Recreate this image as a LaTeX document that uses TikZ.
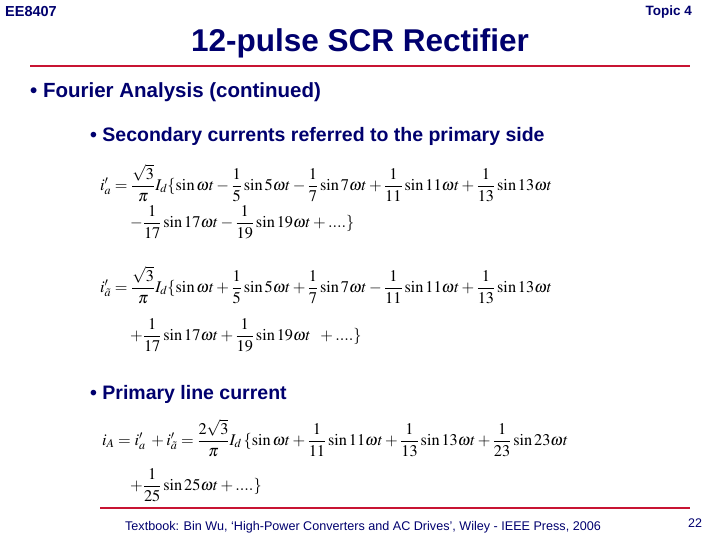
\documentclass[tikz,border=0pt]{standalone}
\usepackage{amsmath}
\usepackage{mathptmx}
\usepackage{fontspec}
\setmainfont{Liberation Sans}
\definecolor{navy}{RGB}{0,0,110}
\definecolor{rline}{RGB}{200,20,50}
\tikzset{txt/.style={anchor=west,inner sep=0pt,text=navy,font=\bfseries},
 eq/.style={anchor=west,inner sep=0pt,font=\fontsize{16.3}{19}\selectfont}}
\begin{document}
\begin{tikzpicture}[x=1pt,y=-1pt]
\useasboundingbox (0,0) rectangle (720,540);
\node[txt,font=\bfseries\fontsize{14.5}{17}\selectfont] (ee) at (5,12) {EE8407};
\node[txt,anchor=east,font=\bfseries\fontsize{13.5}{16}\selectfont] (tp) at (692,12) {Topic 4};
\node[txt,anchor=center,font=\bfseries\fontsize{31.5}{36}\selectfont] (title) at (360,43) {12-pulse SCR Rectifier};
\draw[rline,line width=1.5pt] (30,66) -- (690,66);
\node[txt,font=\bfseries\fontsize{20.5}{24}\selectfont] (b1) at (30,92) {• Fourier Analysis (continued)};
\node[txt,font=\bfseries\fontsize{19.5}{23}\selectfont] (b2) at (90,136) {• Secondary currents referred to the primary side};
\node[eq] (e1) at (100,183) {$i'_a=\dfrac{\sqrt3}{\pi}I_d\{\sin\omega t-\dfrac15\sin5\omega t-\dfrac17\sin7\omega t+\dfrac1{11}\sin11\omega t+\dfrac1{13}\sin13\omega t$};
\node[eq] (e1b) at (130,222) {$-\dfrac1{17}\sin17\omega t-\dfrac1{19}\sin19\omega t+....\}$};
\node[eq] (e2) at (100,285) {$i'_{\tilde a}=\dfrac{\sqrt3}{\pi}I_d\{\sin\omega t+\dfrac15\sin5\omega t+\dfrac17\sin7\omega t-\dfrac1{11}\sin11\omega t+\dfrac1{13}\sin13\omega t$};
\node[eq] (e2b) at (130,335) {$+\dfrac1{17}\sin17\omega t+\dfrac1{19}\sin19\omega t\;\;+....\}$};
\node[txt,font=\bfseries\fontsize{19.5}{23}\selectfont] (b3) at (90,394) {• Primary line current};
\node[eq] (e3) at (102,438) {$i_A=i'_a\;+i'_{\tilde a}=\dfrac{2\sqrt3}{\pi}I_d\,\{\sin\omega t+\dfrac1{11}\sin11\omega t+\dfrac1{13}\sin13\omega t+\dfrac1{23}\sin23\omega t$};
\node[eq] (e3b) at (130,485) {$+\dfrac1{25}\sin25\omega t+....\}$};
\draw[rline,line width=1.5pt] (100,508) -- (690,508);
\node[txt,anchor=center,font=\fontsize{12.6}{15}\selectfont] (ft) at (363,527) {Textbook: Bin Wu, ‘High-Power Converters and AC Drives’, Wiley - IEEE Press, 2006};
\node[anchor=center,inner sep=0pt,text=navy,font=\fontsize{12.5}{15}\selectfont] (pg) at (695,523) {22};
\end{tikzpicture}
\end{document}
